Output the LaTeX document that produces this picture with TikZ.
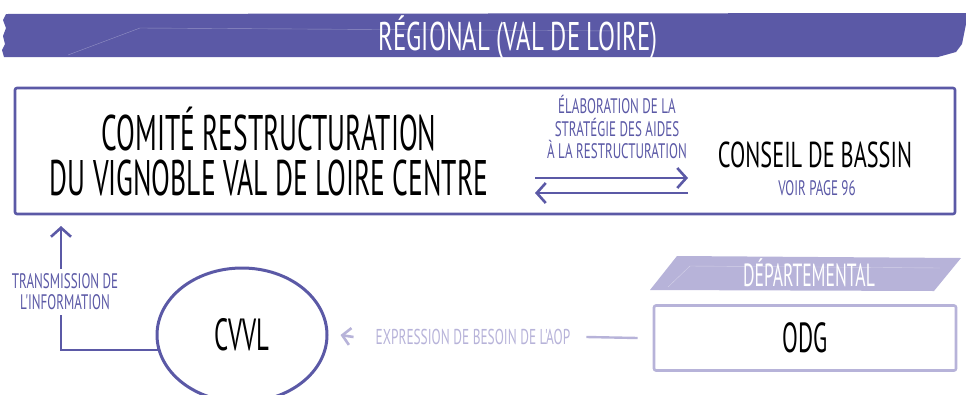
\documentclass[tikz,border=0pt]{standalone}
\usepackage{fontspec}
\setmainfont{PT Sans}[FakeStretch=0.55]
\newfontfamily\notefont{PT Sans}[FakeStretch=0.62]
\usepackage{tikz}
\usetikzlibrary{arrows.meta,positioning,shapes.geometric,calc}
\definecolor{regviolet}{HTML}{5B59A6}
\definecolor{deplilac}{HTML}{B7B3D9}
\newcommand{\fs}[1]{\fontsize{#1}{#1}\selectfont}
\tikzset{
  txt/.style={inner sep=0pt,align=center,text=black},
  note/.style={inner sep=0pt,align=center,text=regviolet,font=\notefont\fontsize{21}{22.5}\selectfont},
  frame/.style={draw=regviolet,line width=2.6pt,rounded corners=2pt},
  arr/.style={regviolet,line width=2.6pt,-{Straight Barb[length=9pt,width=20pt]}},
  softarr/.style={deplilac,line width=2.6pt,-{Straight Barb[length=8pt,width=17pt]}},
}

\begin{document}
\begin{tikzpicture}[x=1pt,y=-1pt]
\useasboundingbox (0,0) rectangle (966,394);
% bandeau regional
\fill[regviolet] (6,14) -- (966,13) -- (966,24) -- (962,44) -- (956,52) -- (938,57) -- (4,57)
  -- (2,50) -- (5,44) -- (3,36) -- (6,28) -- (3,20) -- cycle;
\draw[white,opacity=0.35,line width=0.4pt] (68,55) -- (140,28) -- (620,31);
\node[txt,text=white,font=\notefont\fs{40}] (regtitle) at (518,37) {RÉGIONAL (VAL DE LOIRE)};
% cadre regional
\node[frame,minimum width=940pt,minimum height=126pt] (region) at (485,151) {};
\node[txt,font=\fontsize{50}{45}\selectfont] (comite) at (269,152) {COMITÉ RESTRUCTURATION\\DU VIGNOBLE VAL DE LOIRE CENTRE};
\node[txt,font=\notefont\fs{36}] (bassin) at (815,155) {CONSEIL DE BASSIN};
\node[note,font=\notefont\fs{21}] (voir) at (817,188) {VOIR PAGE 96};
\node[note] (elab) at (617,127) {ÉLABORATION DE LA\\STRATÉGIE DES AIDES\\À LA RESTRUCTURATION};
\draw[arr] ([shift={(-82,51)}]elab.center) -- ([shift={(71,51)}]elab.center);
\draw[arr] ([shift={(71,66)}]elab.center) -- ([shift={(-82,66)}]elab.center);
% CVVL
\node[draw=regviolet,line width=3pt,ellipse,minimum width=170pt,minimum height=134pt,txt,font=\fs{45}] (cvvl) at (242,335) {CVVL};
\coordinate (infotop) at (61,226);
\draw[arr] (cvvl.190) -| (infotop);
\node[note,fill=white,inner ysep=5pt,font=\notefont\fontsize{21}{21}\selectfont] (transm) at (65,292) {TRANSMISSION DE\\L'INFORMATION};
% departemental
\fill[deplilac] (677,256) -- (961,258) -- (934,291) -- (650,290) -- cycle;
\draw[white,opacity=0.4,line width=0.4pt] (668,287) -- (690,266) -- (940,268);
\node[txt,text=white,font=\fs{32}] (deptitle) at (809,273) {DÉPARTEMENTAL};
\node[frame,draw=deplilac,minimum width=302pt,minimum height=65pt,txt,font=\fs{42}] (odg) at (805,338) {ODG};
\node[note,text=deplilac,font=\notefont\fs{21.5}] (expr) at (473,337) {EXPRESSION DE BESOIN DE L'AOP};
\draw[deplilac,line width=2.4pt] ([xshift=-15]odg.west) -- ([xshift=16]expr.east);
\draw[softarr] ([xshift=-22]expr.west) -- ([xshift=12]cvvl.east);
\end{tikzpicture}
\end{document}
